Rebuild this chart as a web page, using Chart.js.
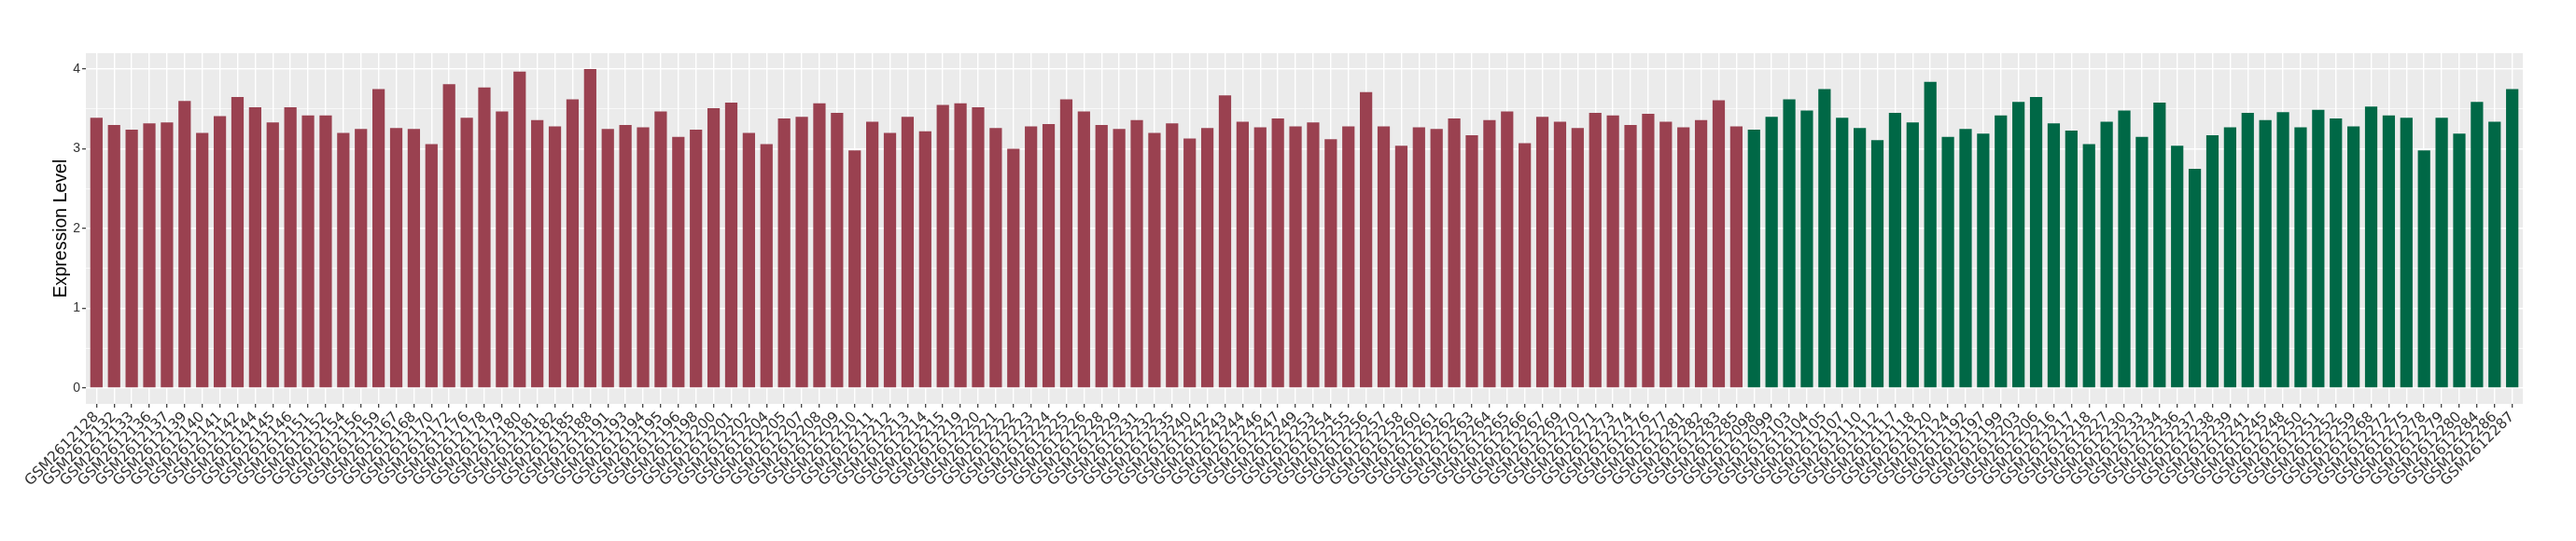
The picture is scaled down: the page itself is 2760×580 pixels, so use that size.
<!DOCTYPE html>
<html>
<head>
<meta charset="utf-8">
<script src="https://cdn.jsdelivr.net/npm/chart.js@4.4.1/dist/chart.umd.min.js"></script>
<style>
  html, body { margin: 0; padding: 0; background: #ffffff; }
  #wrap { width: 2760px; height: 580px; }
</style>
</head>
<body>
<div id="wrap"><canvas id="exprChart" width="2760" height="580"></canvas></div>
<script>
// group 1 (red) samples
const groupOneIds = [
  "GSM2612128","GSM2612132","GSM2612133","GSM2612136","GSM2612137","GSM2612139","GSM2612140","GSM2612141","GSM2612142","GSM2612144",
  "GSM2612145","GSM2612146","GSM2612151","GSM2612152","GSM2612154","GSM2612156","GSM2612159","GSM2612167","GSM2612168","GSM2612170",
  "GSM2612172","GSM2612176","GSM2612178","GSM2612179","GSM2612180","GSM2612181","GSM2612182","GSM2612185","GSM2612188","GSM2612191",
  "GSM2612193","GSM2612194","GSM2612195","GSM2612196","GSM2612198","GSM2612200","GSM2612201","GSM2612202","GSM2612204","GSM2612205",
  "GSM2612207","GSM2612208","GSM2612209","GSM2612210","GSM2612211","GSM2612212","GSM2612213","GSM2612214","GSM2612215","GSM2612219",
  "GSM2612220","GSM2612221","GSM2612222","GSM2612223","GSM2612224","GSM2612225","GSM2612226","GSM2612228","GSM2612229","GSM2612231",
  "GSM2612232","GSM2612235","GSM2612240","GSM2612242","GSM2612243","GSM2612244","GSM2612246","GSM2612247","GSM2612249","GSM2612253",
  "GSM2612254","GSM2612255","GSM2612256","GSM2612257","GSM2612258","GSM2612260","GSM2612261","GSM2612262","GSM2612263","GSM2612264",
  "GSM2612265","GSM2612266","GSM2612267","GSM2612269","GSM2612270","GSM2612271","GSM2612273","GSM2612274","GSM2612276","GSM2612277",
  "GSM2612281","GSM2612282","GSM2612283","GSM2612285"
];
const groupOneValues = [
  3.39,3.30,3.24,3.32,3.33,3.60,3.20,3.41,3.65,3.52,
  3.33,3.52,3.42,3.42,3.20,3.25,3.75,3.26,3.25,3.06,
  3.81,3.39,3.77,3.47,3.97,3.36,3.28,3.62,4.00,3.25,
  3.30,3.27,3.47,3.15,3.24,3.51,3.58,3.20,3.06,3.38,
  3.40,3.57,3.45,2.98,3.34,3.20,3.40,3.22,3.55,3.57,
  3.52,3.26,3.00,3.28,3.31,3.62,3.47,3.30,3.25,3.36,
  3.20,3.32,3.13,3.26,3.67,3.34,3.27,3.38,3.28,3.33,
  3.12,3.28,3.71,3.28,3.04,3.27,3.25,3.38,3.17,3.36,
  3.47,3.07,3.40,3.34,3.26,3.45,3.42,3.30,3.44,3.34,
  3.27,3.36,3.61,3.28
];

// group 2 (green) samples
const groupTwoIds = [
  "GSM2612098","GSM2612099","GSM2612103","GSM2612104","GSM2612105","GSM2612107","GSM2612110","GSM2612112","GSM2612117","GSM2612118",
  "GSM2612120","GSM2612124","GSM2612192","GSM2612197","GSM2612199","GSM2612203","GSM2612206","GSM2612216","GSM2612217","GSM2612218",
  "GSM2612227","GSM2612230","GSM2612233","GSM2612234","GSM2612236","GSM2612237","GSM2612238","GSM2612239","GSM2612241","GSM2612245",
  "GSM2612248","GSM2612250","GSM2612251","GSM2612252","GSM2612259","GSM2612268","GSM2612272","GSM2612275","GSM2612278","GSM2612279",
  "GSM2612280","GSM2612284","GSM2612286","GSM2612287"
];
const groupTwoValues = [
  3.24,3.40,3.62,3.48,3.75,3.39,3.26,3.11,3.45,3.33,
  3.84,3.15,3.25,3.19,3.42,3.59,3.65,3.32,3.23,3.06,
  3.34,3.48,3.15,3.58,3.04,2.75,3.17,3.27,3.45,3.36,
  3.46,3.27,3.49,3.38,3.28,3.53,3.42,3.39,2.98,3.39,
  3.19,3.59,3.34,3.75
];

const yTickValues = [0, 0.5, 1, 1.5, 2, 2.5, 3, 3.5, 4];

const sampleIds = groupOneIds.concat(groupTwoIds);
const allValues = groupOneValues.concat(groupTwoValues);
const barColors = groupOneIds.map(() => "#9A4150").concat(groupTwoIds.map(() => "#006846"));

// grey panel behind the grid, like a ggplot panel
const panelBackground = {
    id: "panelBackground",
    beforeDraw(chart) {
        const { ctx, chartArea } = chart;
        ctx.save();
        ctx.fillStyle = "#ffffff";
        ctx.fillRect(0, 0, chart.width, chart.height);
        ctx.fillStyle = "#EBEBEB";
        ctx.fillRect(chartArea.left, chartArea.top, chartArea.right - chartArea.left, chartArea.bottom - chartArea.top);
        ctx.restore();
    }
};

const isWhole = v => Math.abs(v - Math.round(v)) < 1e-6;

const ctx = document.getElementById("exprChart").getContext("2d");
const exprChart = new Chart(ctx, {
    type: "bar",
    data: {
        datasets: [{
            data: allValues.map((v, i) => ({ x: i, y: v })),
            backgroundColor: barColors,
            borderWidth: 0,
            barPercentage: 0.7,
            categoryPercentage: 1.0
        }]
    },
    plugins: [panelBackground],
    options: {
        responsive: false,
        animation: false,
        layout: { padding: { top: 57, right: 57, left: 54, bottom: 0 } },
        plugins: {
            legend: { display: false },
            tooltip: { enabled: false }
        },
        scales: {
            x: {
                type: "linear",
                offset: false,
                min: -0.6,
                max: sampleIds.length - 0.4,
                afterBuildTicks: axis => { axis.ticks = sampleIds.map((_, i) => ({ value: i })); },
                afterFit: axis => { axis.height = 147; },
                border: { display: false },
                grid: {
                    offset: false,
                    color: "#ffffff",
                    lineWidth: 1.4,
                    tickColor: "#333333",
                    tickLength: 4,
                    tickWidth: 1.2
                },
                ticks: {
                    autoSkip: false,
                    minRotation: 45,
                    maxRotation: 45,
                    padding: 1,
                    color: "#333333",
                    font: { family: "DejaVu Sans", size: 15.5 },
                    callback: v => sampleIds[v]
                }
            },
            y: {
                min: -0.2,
                max: 4.2,
                afterBuildTicks: axis => { axis.ticks = yTickValues.map(v => ({ value: v })); },
                afterFit: axis => { axis.width = 38; },
                border: { display: false },
                grid: {
                    color: "#ffffff",
                    lineWidth: c => isWhole(c.tick.value) ? 1.4 : 0.7,
                    tickColor: c => isWhole(c.tick.value) ? "#333333" : "rgba(0,0,0,0)",
                    tickLength: 4,
                    tickWidth: 1.2
                },
                ticks: {
                    padding: 2,
                    color: "#333333",
                    font: { family: "Liberation Sans", size: 14 },
                    callback: v => isWhole(v) ? String(v) : ""
                },
                title: {
                    display: true,
                    text: "Expression Level",
                    color: "#000000",
                    font: { family: "Liberation Sans", size: 19.5 },
                    padding: { top: 0, bottom: 0 }
                }
            }
        }
    }
});
</script>
</body>
</html>
